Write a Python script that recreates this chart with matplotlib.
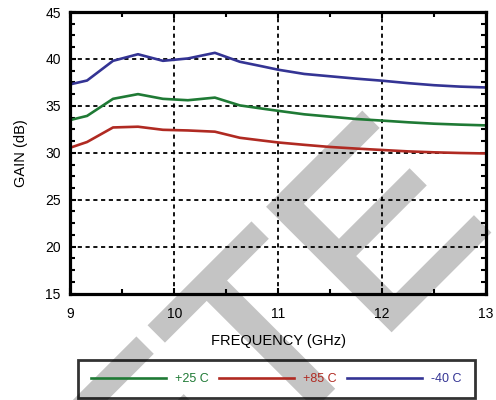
import matplotlib
matplotlib.use("Agg")
import matplotlib.pyplot as plt
import matplotlib.patheffects as pe
from matplotlib.ticker import MultipleLocator

plt.rcParams['font.family'] = ['Liberation Sans', 'DejaVu Sans']

# gain vs frequency
freq = [9.0, 9.16, 9.41, 9.65, 9.89, 10.13, 10.39, 10.63, 10.85, 11.0,
        11.25, 11.5, 11.75, 12.0, 12.25, 12.5, 12.75, 13.0]
gain_25 = [33.5, 33.93, 35.75, 36.25, 35.75, 35.6, 35.88, 35.05, 34.7, 34.47,
           34.1, 33.85, 33.6, 33.43, 33.25, 33.1, 33.0, 32.92]
gain_85 = [30.55, 31.15, 32.7, 32.78, 32.45, 32.38, 32.25, 31.6, 31.3, 31.1,
           30.85, 30.62, 30.45, 30.3, 30.15, 30.05, 29.98, 29.93]
gain_m40 = [37.3, 37.7, 39.8, 40.5, 39.8, 40.05, 40.65, 39.7, 39.2, 38.85,
            38.4, 38.15, 37.9, 37.68, 37.42, 37.2, 37.05, 36.96]
labels = ['+25 C', '+85 C', '-40 C']
colors = ['#1f7a35', '#b02a22', '#343494']

fig = plt.figure(figsize=(4.96, 4.0), dpi=100)

# grey watermark behind everything
fig.text(0.998, 0.4375, 'OBSOLETE', fontsize=180, color='#c4c4c4',
         rotation=45, rotation_mode='anchor', ha='right', va='baseline',
         zorder=-1,
         path_effects=[pe.withStroke(linewidth=4.0, foreground='#c4c4c4',
                                     joinstyle='miter')])

ax = fig.add_axes([0.142, 0.266, 0.838, 0.704])
ax.set_facecolor('none')

for y, c, lab in zip([gain_25, gain_85, gain_m40], colors, labels):
    ax.plot(freq, y, color=c, lw=1.9, label=lab)

ax.set_xlim(9, 13)
ax.set_ylim(15, 45)
ax.xaxis.set_major_locator(MultipleLocator(1))
ax.xaxis.set_minor_locator(MultipleLocator(0.5))
ax.yaxis.set_major_locator(MultipleLocator(5))
ax.yaxis.set_minor_locator(MultipleLocator(1.25))
ax.tick_params(which='both', direction='in', top=True, right=True,
               width=1.5, labelsize=10)
ax.tick_params(which='major', length=4)
ax.tick_params(which='minor', length=3.5)
ax.tick_params(axis='x', pad=10)
ax.tick_params(axis='y', pad=7)
ax.grid(True, which='major', color='black', lw=1.3, linestyle=(0, (2.3, 2.0)))
for s in ax.spines.values():
    s.set_linewidth(2.3)

ax.set_xlabel('FREQUENCY (GHz)', fontsize=10.5, labelpad=9)
ax.set_ylabel('GAIN (dB)', fontsize=10.5, labelpad=12)

leg = fig.legend(loc='center', bbox_to_anchor=(0.5575, 0.0525),
                 ncol=3, fontsize=9, handlelength=6.0,
                 handletextpad=0.7, columnspacing=0.85, borderpad=1.05,
                 fancybox=False, labelcolor='linecolor', frameon=True)
leg.get_frame().set_edgecolor('black')
leg.get_frame().set_linewidth(2.0)
leg.get_frame().set_facecolor('none')

fig.savefig('out.png', dpi=100)
